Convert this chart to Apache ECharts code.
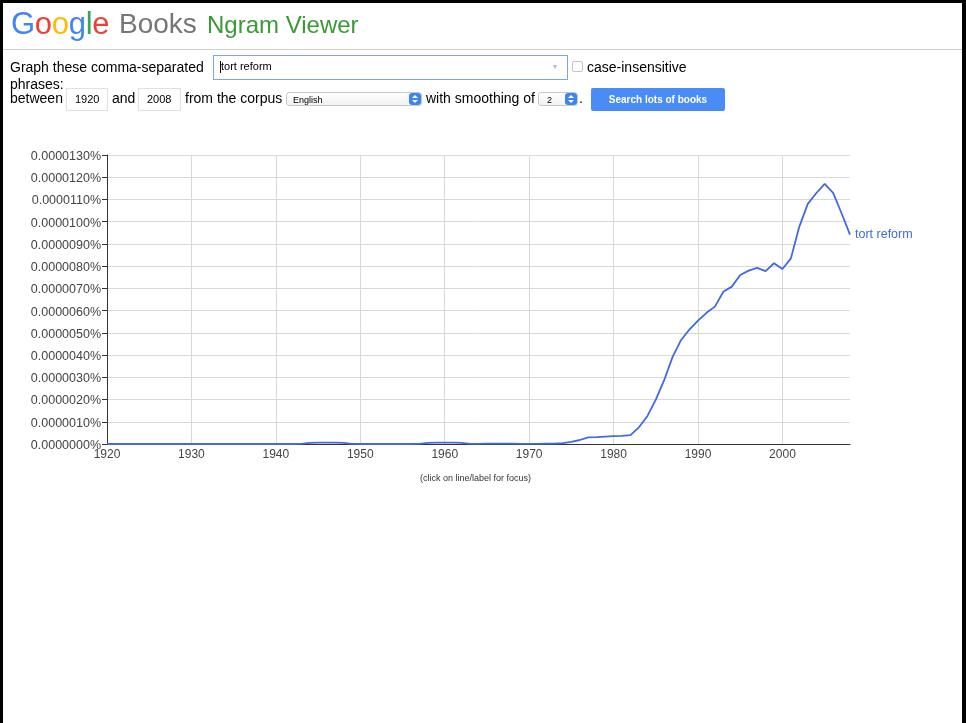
<!DOCTYPE html>
<html>
<head>
<meta charset="utf-8">
<script src="https://cdn.jsdelivr.net/npm/echarts@6/dist/echarts.min.js"></script>
<style>
  html, body { margin: 0; padding: 0; background: #fff; }
  body { width: 966px; height: 723px; overflow: hidden; position: relative; font-family: "Liberation Sans", Arial, Helvetica, sans-serif; color: #000; }
  #chart { position: absolute; left: 0; top: 0; width: 966px; height: 723px; }
  .abs { position: absolute; white-space: nowrap; }
  .t14 { font-size: 14px; line-height: 16px; }
  #frame { position: absolute; left: 0; top: 0; width: 959px; height: 723px; border-left: 3px solid #000; border-top: 3px solid #000; border-right: 4px solid #000; pointer-events: none; }
  .box { position: absolute; box-sizing: border-box; background: #fff; }
  .sel { position: absolute; box-sizing: border-box; border: 1px solid #c8c8c8; border-radius: 3px; background: linear-gradient(#ffffff, #f2f2f2); font-size: 9px; line-height: 12px; }
  .arr { position: absolute; width: 12px; height: 12px; border-radius: 3px; background: #3b84f2; }
  .arr .up { position: absolute; left: 3px; top: 2px; width: 0; height: 0; border-left: 3px solid transparent; border-right: 3px solid transparent; border-bottom: 3px solid #fff; }
  .arr .dn { position: absolute; left: 3px; top: 7px; width: 0; height: 0; border-left: 3px solid transparent; border-right: 3px solid transparent; border-top: 3px solid #fff; }
</style>
</head>
<body>
<div id="chart"></div>

<div id="frame"></div>

<!-- header -->
<div class="abs" style="left:11px; top:7.5px; font-size:31px; line-height:31px; letter-spacing:-0.3px;"><span style="color:#4285F4">G</span><span style="color:#EA4335">o</span><span style="color:#FBBC05">o</span><span style="color:#4285F4">g</span><span style="color:#34A853">l</span><span style="color:#EA4335">e</span></div>
<div class="abs" style="left:119px; top:9.5px; font-size:28px; line-height:28px; color:#767676;">Books</div>
<div class="abs" style="left:207px; top:13px; font-size:24px; line-height:24px; color:#3a9a35;">Ngram Viewer</div>
<div class="abs" style="left:3px; top:49px; width:959px; height:1px; background:#cfcfcf;"></div>

<!-- form row 1 -->
<div class="abs t14" style="left:10px; top:59px;">Graph these comma-separated</div>
<div class="box" style="left:213px; top:55px; width:355px; height:25px; border:1px solid #7ea6e3;"></div>
<div class="abs" style="left:220px; top:61px; width:1px; height:12px; background:#000;"></div>
<div class="abs" style="left:221px; top:60px; font-size:11px; line-height:13px;">tort reform</div>
<div class="abs" style="left:553px; top:62px; font-size:8px; line-height:10px; color:#b8b8b8;">&#9662;</div>
<div class="box" style="left:572px; top:61px; width:11px; height:11px; border:1px solid #c4c4c4; border-radius:2px;"></div>
<div class="abs t14" style="left:587px; top:59px;">case-insensitive</div>

<!-- form row 2 -->
<div class="abs t14" style="left:10px; top:76px;">phrases:</div>
<div class="abs t14" style="left:10px; top:90px;">between</div>
<div class="box" style="left:66px; top:88px; width:42px; height:23px; border:1px solid #e0e0e0;"></div>
<div class="abs" style="left:75px; top:93px; font-size:11px; line-height:13px;">1920</div>
<div class="abs t14" style="left:112px; top:90px;">and</div>
<div class="box" style="left:138px; top:88px; width:43px; height:23px; border:1px solid #e0e0e0;"></div>
<div class="abs" style="left:147px; top:93px; font-size:11px; line-height:13px;">2008</div>
<div class="abs t14" style="left:185px; top:90px;">from the corpus</div>
<div class="sel" style="left:286px; top:92px; width:136px; height:14px;"><span style="position:absolute; left:6px; top:1px;">English</span></div>
<div class="arr" style="left:409px; top:93px;"><div class="up"></div><div class="dn"></div></div>
<div class="abs t14" style="left:426px; top:90px;">with smoothing of</div>
<div class="sel" style="left:538px; top:92px; width:40px; height:14px;"><span style="position:absolute; left:8px; top:1px;">2</span></div>
<div class="arr" style="left:565px; top:93px;"><div class="up"></div><div class="dn"></div></div>
<div class="abs t14" style="left:579px; top:90px;">.</div>
<div class="box" style="left:591px; top:88px; width:134px; height:23px; background:#4a8cf5; border-radius:2px; color:#fff; font-size:10px; font-weight:bold; line-height:23px; text-align:center;">Search lots of books</div>

<script>
// ---- data (values in units of 0.000001 %) ----
const seriesName = 'tort reform';
const years = [
  1920,1921,1922,1923,1924,1925,1926,1927,1928,1929,
  1930,1931,1932,1933,1934,1935,1936,1937,1938,1939,
  1940,1941,1942,1943,1944,1945,1946,1947,1948,1949,
  1950,1951,1952,1953,1954,1955,1956,1957,1958,1959,
  1960,1961,1962,1963,1964,1965,1966,1967,1968,1969,
  1970,1971,1972,1973,1974,1975,1976,1977,1978,1979,
  1980,1981,1982,1983,1984,1985,1986,1987,1988,1989,
  1990,1991,1992,1993,1994,1995,1996,1997,1998,1999,
  2000,2001,2002,2003,2004,2005,2006,2007,2008
];
const values = [
  0,0,0,0,0,0,0,0,0,0,
  0,0,0,0,0,0,0,0,0,0,
  0,0,0,0.01,0.05,0.06,0.06,0.06,0.05,0.01,
  0,0,0,0,0,0,0,0.01,0.05,0.06,
  0.06,0.06,0.05,0.01,0.01,0.02,0.02,0.02,0.02,0.01,
  0.01,0.01,0.02,0.02,0.04,0.1,0.18,0.3,0.31,0.33,
  0.35,0.37,0.4,0.75,1.25,2.0,2.88,3.93,4.68,5.16,
  5.55,5.9,6.18,6.85,7.08,7.6,7.8,7.92,7.78,8.13,
  7.87,8.35,9.78,10.8,11.28,11.7,11.3,10.38,9.42
];
const yTickLabels = [
  '0.0000000%','0.0000010%','0.0000020%','0.0000030%','0.0000040%',
  '0.0000050%','0.0000060%','0.0000070%','0.0000080%','0.0000090%',
  '0.0000100%','0.0000110%','0.0000120%','0.0000130%'
];
const xTickLabels = ['1920','1930','1940','1950','1960','1970','1980','1990','2000'];
const footnote = '(click on line/label for focus)';

const lineColor = '#4169e1';
const chart = echarts.init(document.getElementById('chart'), null, { renderer: 'canvas' });
const data = years.map((y, i) => [y, values[i]]);

chart.setOption({
  animation: false,
  grid: { left: 107, right: 116, top: 155, bottom: 279, containLabel: false },
  xAxis: {
    type: 'value', min: 1920, max: 2008, interval: 10,
    axisLine: { show: true, lineStyle: { color: '#333', width: 1 } },
    axisTick: { show: false },
    axisLabel: {
      color: '#444', fontSize: 12, fontFamily: 'Liberation Sans, Arial', margin: 5,
      showMaxLabel: false,
      formatter: v => { const s = String(v); return xTickLabels.indexOf(s) >= 0 ? s : ''; }
    },
    splitLine: { show: true, showMaxLine: false, lineStyle: { color: '#d9d9d9', width: 1 } }
  },
  yAxis: {
    type: 'value', min: 0, max: 13, interval: 1,
    axisLine: { show: true, lineStyle: { color: '#333', width: 1 } },
    axisTick: { show: true, length: 5, lineStyle: { color: '#333' } },
    axisLabel: {
      color: '#444', fontSize: 12.5, fontFamily: 'Liberation Sans, Arial', margin: 6,
      formatter: v => '{a|' + yTickLabels[Math.round(v)] + '}',
      rich: { a: { color: '#444', fontSize: 12.5, fontFamily: 'Liberation Sans, Arial', padding: [3, 0, 0, 0] } }
    },
    splitLine: { show: true, lineStyle: { color: '#d9d9d9', width: 1 } }
  },
  graphic: [{
    type: 'text', left: 478 - 58, top: 474,
    style: { text: footnote, fill: '#333', fontSize: 9, fontFamily: 'Liberation Sans, Arial' }
  }],
  series: [{
    name: seriesName, type: 'line', data: data,
    showSymbol: false, symbol: 'none',
    lineStyle: { color: lineColor, width: 1.8 },
    itemStyle: { color: lineColor },
    endLabel: { show: true, formatter: seriesName, color: lineColor, fontSize: 12.5, fontFamily: 'Liberation Sans, Arial', distance: 5 }
  }]
});
</script>
</body>
</html>
